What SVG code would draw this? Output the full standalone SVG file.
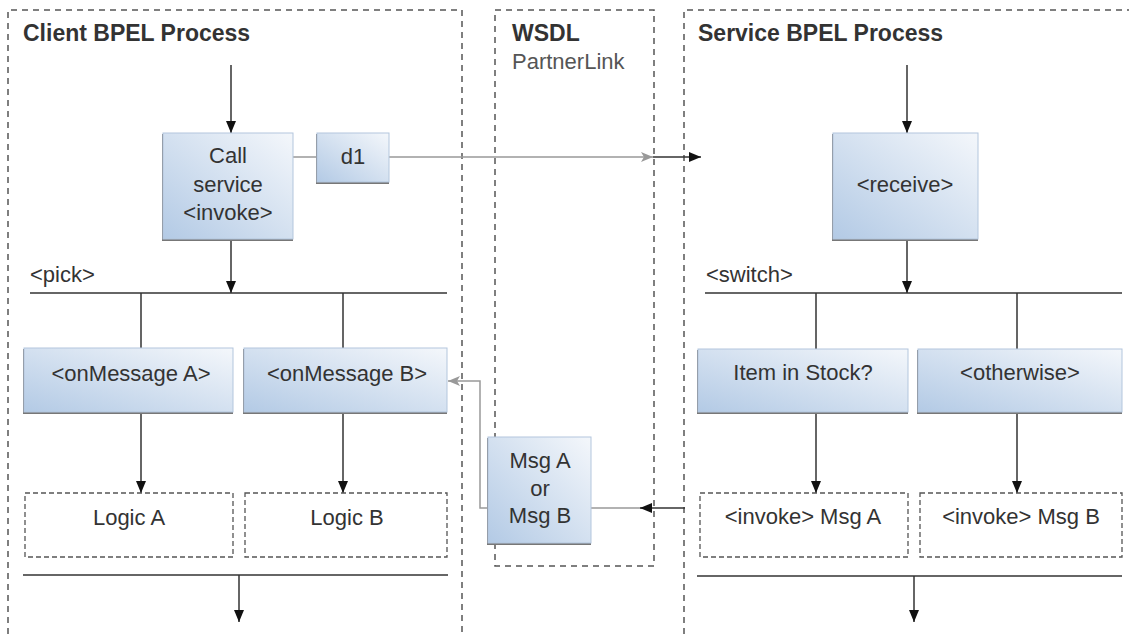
<svg xmlns="http://www.w3.org/2000/svg" width="1129" height="634" viewBox="0 0 1129 634">
<style>
.frame{fill:none;stroke:#555;stroke-width:1.5;stroke-dasharray:6 5}
.dbox{fill:#fff;stroke:#555;stroke-width:1.3;stroke-dasharray:5 3}
.shadow{fill:#777}
.box{fill:url(#g);stroke:#b3c6dd;stroke-width:1}
.t{font-family:"Liberation Sans",Arial,sans-serif;font-size:22px;fill:#333}
.c{text-anchor:middle}
.title{font-family:"Liberation Sans",Arial,sans-serif;font-size:23px;font-weight:bold;fill:#333}
.k{fill:none;stroke:#333;stroke-width:1.5}
.gr{fill:none;stroke:#999;stroke-width:1.5}
</style>
<defs>
<linearGradient id="g" x1="0" y1="1" x2="1" y2="0">
<stop offset="0" stop-color="#b3cae5"/>
<stop offset="1" stop-color="#f4f7fb"/>
</linearGradient>
<marker id="ak" markerUnits="userSpaceOnUse" markerWidth="14" markerHeight="12" viewBox="0 0 14 12" refX="13" refY="6" orient="auto">
<path d="M1 1 L13 6 L1 11 Z" fill="#111"/>
</marker>
<marker id="ag" markerUnits="userSpaceOnUse" markerWidth="14" markerHeight="12" viewBox="0 0 14 12" refX="13" refY="6" orient="auto">
<path d="M1 1 L13 6 L1 11 L4 6 Z" fill="#999"/>
</marker>
</defs>
<rect width="1129" height="634" fill="#fff"/>

<g id="client-process">
<path class="frame" d="M8 634 V10 H462 V634"/>
<text class="title" x="23" y="41">Client BPEL Process</text>
</g>
<g id="wsdl">
<rect class="frame" x="495" y="10" width="159" height="556"/>
<text class="title" x="512" y="41">WSDL</text>
<text class="t" x="512" y="69" style="fill:#555">PartnerLink</text>
</g>
<g id="service-process">
<path class="frame" d="M684 634 V10 H1129"/>
<text class="title" x="698" y="41">Service BPEL Process</text>
</g>

<g id="connectors">
<path class="k" d="M231 65 V133" marker-end="url(#ak)"/>
<path class="k" d="M231 240 V293" marker-end="url(#ak)"/>
<path class="k" d="M30 293 H447"/>
<path class="k" d="M141 293 V348 M343 293 V348"/>
<path class="k" d="M141 413 V493" marker-end="url(#ak)"/>
<path class="k" d="M343 413 V493" marker-end="url(#ak)"/>
<path class="k" d="M23 575 H448"/>
<path class="k" d="M239 575 V622" marker-end="url(#ak)"/>
<path class="gr" d="M293 157 H317"/>
<path class="gr" d="M389 157 H653" marker-end="url(#ag)"/>
<path class="k" d="M653 157 H701" marker-end="url(#ak)"/>
<path class="k" d="M907 65 V133" marker-end="url(#ak)"/>
<path class="k" d="M907 240 V293" marker-end="url(#ak)"/>
<path class="k" d="M705 293 H1122"/>
<path class="k" d="M816 293 V349 M1017 293 V349"/>
<path class="k" d="M816 413 V493" marker-end="url(#ak)"/>
<path class="k" d="M1017 413 V493" marker-end="url(#ak)"/>
<path class="k" d="M697 576 H1122"/>
<path class="k" d="M914 576 V622" marker-end="url(#ak)"/>
<path class="gr" d="M650 508 H591"/>
<path class="k" d="M685 508 H640" marker-end="url(#ak)"/>
<path class="gr" d="M488 508 H480 V381 H448" marker-end="url(#ag)"/>
<text class="t" x="30" y="282">&lt;pick&gt;</text>
<text class="t" x="706" y="282">&lt;switch&gt;</text>
</g>

<g id="call-service">
<rect class="shadow" x="162" y="134" width="131" height="107"/>
<rect class="box" x="163" y="133" width="130" height="106"/>
<text class="t c" x="228" y="163">Call</text>
<text class="t c" x="228" y="192">service</text>
<text class="t c" x="228" y="220">&lt;invoke&gt;</text>
</g>
<g id="d1">
<rect class="shadow" x="316" y="134" width="73" height="50"/>
<rect class="box" x="317" y="133" width="72" height="49"/>
<text class="t c" x="353" y="164">d1</text>
</g>
<g id="onmessage-a">
<rect class="shadow" x="23" y="349" width="210" height="65"/>
<rect class="box" x="24" y="348" width="209" height="64"/>
<text class="t c" x="131" y="381">&lt;onMessage A&gt;</text>
</g>
<g id="onmessage-b">
<rect class="shadow" x="243" y="349" width="204" height="65"/>
<rect class="box" x="244" y="348" width="203" height="64"/>
<text class="t c" x="347" y="381">&lt;onMessage B&gt;</text>
</g>
<g id="logic-a">
<rect class="dbox" x="25" y="493" width="208" height="64"/>
<text class="t c" x="129" y="525">Logic A</text>
</g>
<g id="logic-b">
<rect class="dbox" x="245" y="493" width="202" height="64"/>
<text class="t c" x="347" y="525">Logic B</text>
</g>
<g id="msg">
<rect class="shadow" x="487" y="438" width="104" height="107"/>
<rect class="box" x="488" y="437" width="103" height="106"/>
<text class="t c" x="540" y="468">Msg A</text>
<text class="t c" x="540" y="496">or</text>
<text class="t c" x="540" y="523">Msg B</text>
</g>
<g id="receive">
<rect class="shadow" x="832" y="134" width="146" height="107"/>
<rect class="box" x="833" y="133" width="145" height="106"/>
<text class="t c" x="905" y="192">&lt;receive&gt;</text>
</g>
<g id="item-in-stock">
<rect class="shadow" x="697" y="350" width="211" height="64"/>
<rect class="box" x="698" y="349" width="210" height="63"/>
<text class="t c" x="803" y="380">Item in Stock?</text>
</g>
<g id="otherwise">
<rect class="shadow" x="917" y="350" width="205" height="64"/>
<rect class="box" x="918" y="349" width="204" height="63"/>
<text class="t c" x="1020" y="380">&lt;otherwise&gt;</text>
</g>
<g id="invoke-a">
<rect class="dbox" x="700" y="493" width="208" height="64"/>
<text class="t c" x="803" y="524">&lt;invoke&gt; Msg A</text>
</g>
<g id="invoke-b">
<rect class="dbox" x="920" y="493" width="202" height="64"/>
<text class="t c" x="1021" y="524">&lt;invoke&gt; Msg B</text>
</g>
</svg>
